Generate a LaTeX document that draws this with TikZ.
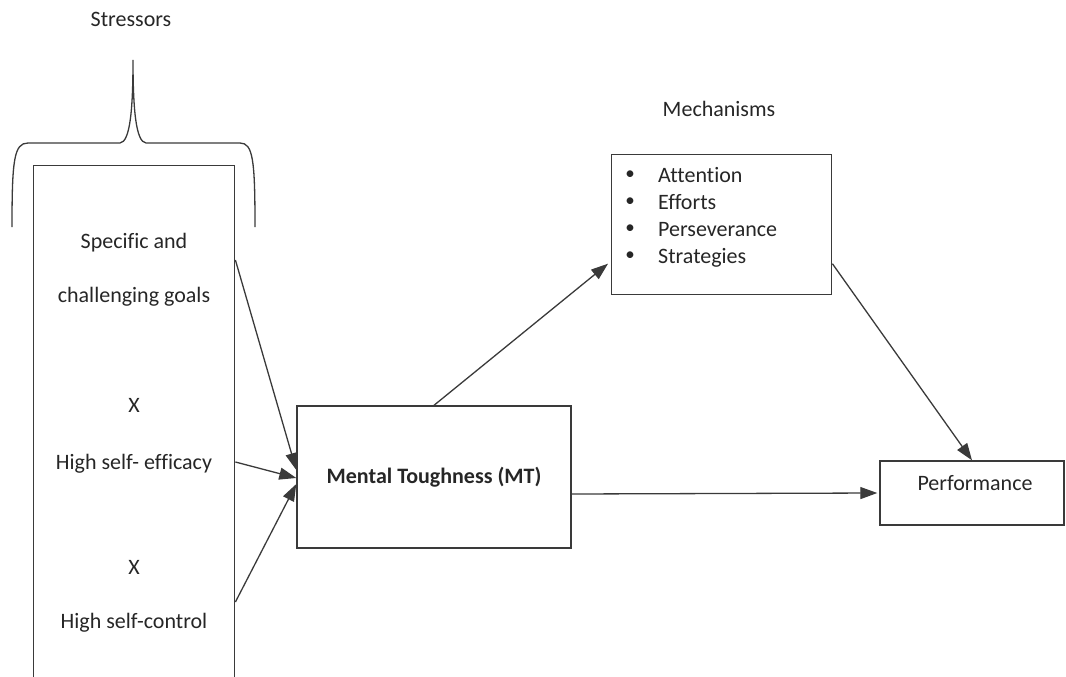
\documentclass[tikz,border=0pt]{standalone}
\usepackage{fontspec}
\setmainfont{Carlito}[Ligatures=NoCommon]
\usetikzlibrary{positioning,arrows.meta}
\definecolor{DiagLine}{HTML}{3A3A3A}
\definecolor{DiagText}{HTML}{262626}
\newcommand\diagfont{\fontsize{22}{27}\selectfont}

\begin{document}
\begin{tikzpicture}[x=1pt,y=-1pt,>={Triangle[length=17pt,width=12pt]},
  font=\diagfont,text=DiagText]
  \tikzstyle{frame}=[draw=DiagLine,line width=1.4pt,inner sep=0pt]
  \tikzstyle{link}=[->,draw=DiagLine,line width=1.3pt]
  \useasboundingbox (0,0) rectangle (1066,677);
  \clip (0,0) rectangle (1066,677);
  % stressors
  \node[anchor=base] (stress) at (131,27) {Stressors};
  \draw[DiagLine,line width=1.3pt] (12,227) .. controls (12,160) and (14,143) .. (28,143)
    -- (120,143) .. controls (130,142) and (133,110) .. (133,60)
    .. controls (133,110) and (136,142) .. (146,143) -- (240,143)
    .. controls (253,143) and (255,160) .. (255,227);
  \node[frame,anchor=north west,minimum width=201pt,minimum height=540pt] (lb) at (33,165) {};
  \node[anchor=base] (g1) at (134,248) {Specific and};
  \node[anchor=base] (g2) at (134,302) {challenging goals};
  \node[anchor=base] (x1) at (134,412) {X};
  \node[anchor=base] (g3) at (134,469) {High self- efficacy};
  \node[anchor=base] (x2) at (134,574) {X};
  \node[anchor=base] (g4) at (134,628) {High self-control};
  % mental toughness
  \node[frame,minimum width=274pt,minimum height=142pt,font=\diagfont\bfseries] (mt) at (434,477) {Mental Toughness (MT)};
  % mechanisms
  \node[anchor=base] (mechl) at (719,116) {Mechanisms};
  \node[frame,anchor=north west,minimum width=220pt,minimum height=140pt] (mech) at (611,154) {};
  \foreach \t [count=\i] in {Attention,Efforts,Perseverance,Strategies}{
    \node[anchor=center,font=\fontsize{19}{19}\selectfont] (b\i) at (630,148+27*\i) {\textbullet};
    \node[anchor=base west,inner sep=0pt] (m\i) at (658,155+27*\i) {\t};
  }
  % performance
  \node[frame,minimum width=184pt,minimum height=64pt] (perf) at (972,493) {};
  \node[anchor=base] (perfl) at (975,490) {Performance};
  % arrows
  \draw[link] ([yshift=-95pt]lb.north east) -- ([yshift=7pt]mt.west);
  \draw[link] ([yshift=-297pt]lb.north east) -- ([yshift=-1pt]mt.west);
  \draw[link] ([yshift=-437pt]lb.north east) -- ([yshift=-7pt]mt.west);
  \draw[link] (mt.north) -- ([xshift=-3pt,yshift=-39pt]mech.west);
  \draw[link] ([yshift=-39pt]mech.east) -- (perf.north);
  \draw[link] ([yshift=-17pt]mt.east) -- ([xshift=-2pt]perf.west);
\end{tikzpicture}
\end{document}
